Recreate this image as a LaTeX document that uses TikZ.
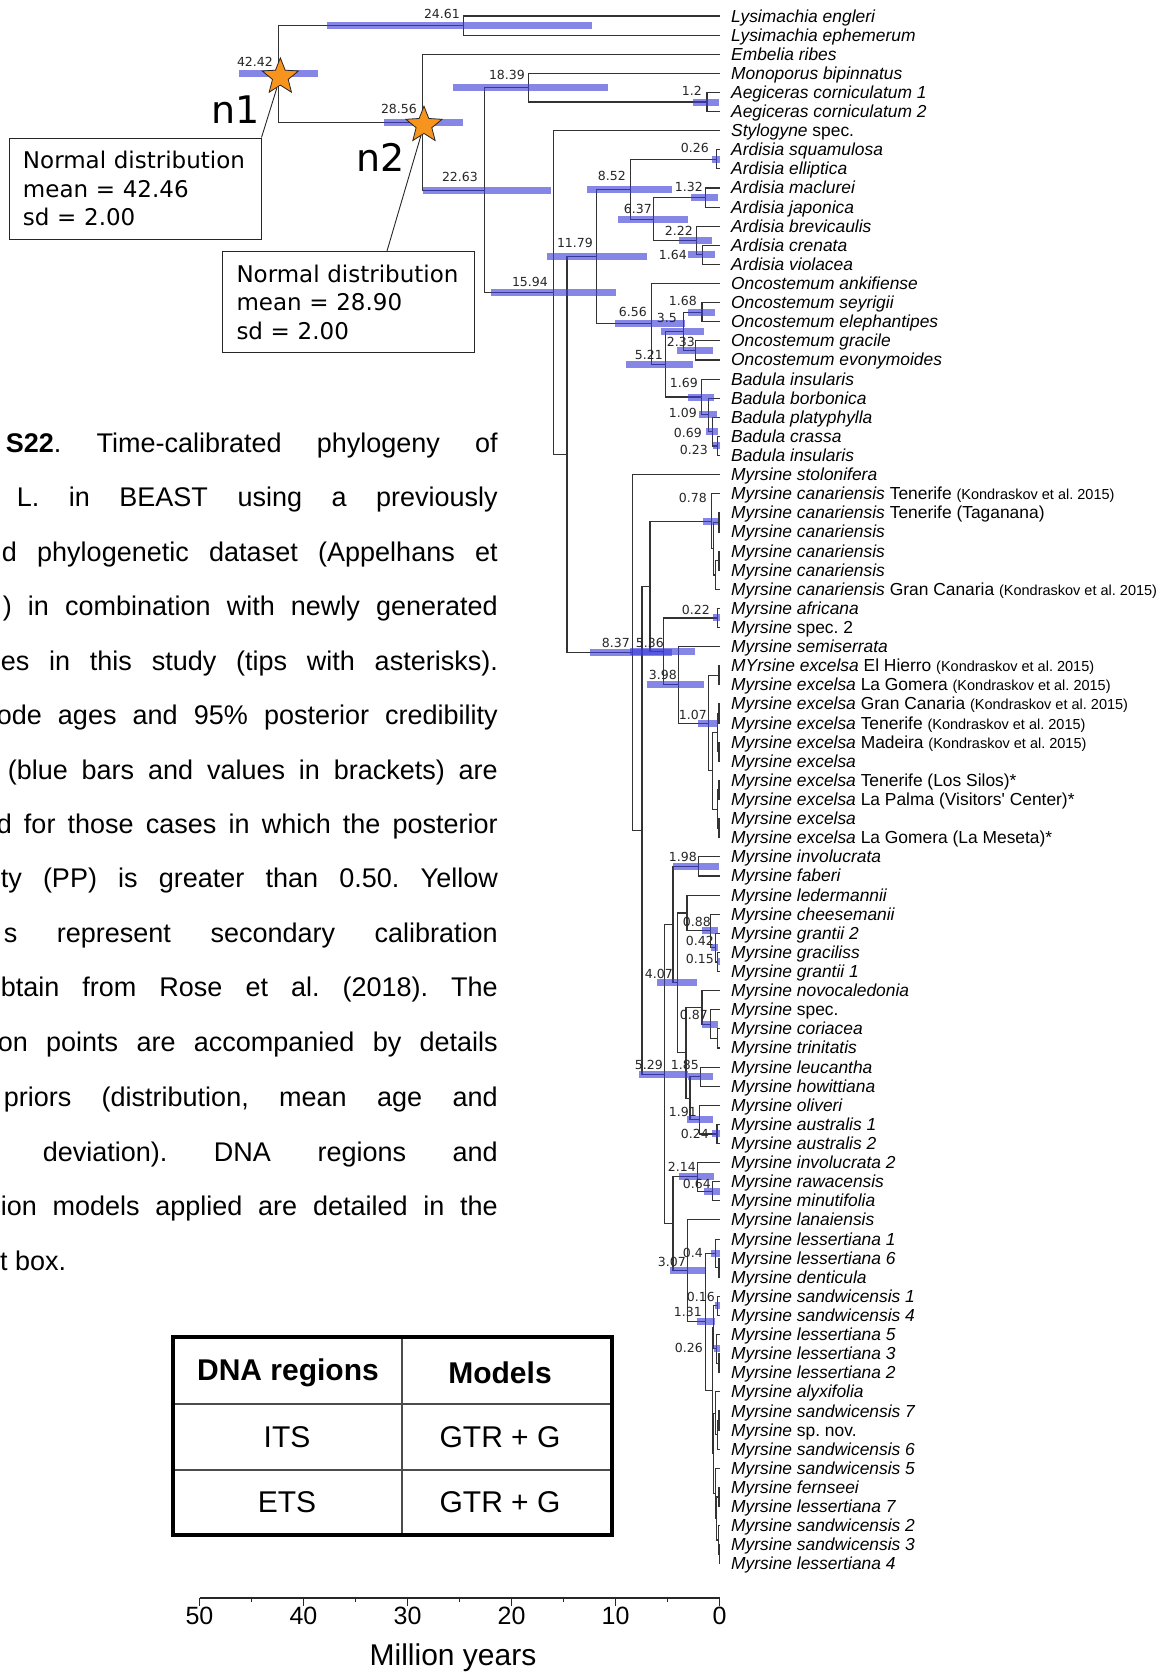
\documentclass[tikz,border=0pt]{standalone}
\usepackage{fontspec}
\setmainfont{Liberation Sans}
\newfontfamily\dvsans{DejaVu Sans}
\usetikzlibrary{calc,shapes.geometric}
\definecolor{calorange}{RGB}{247,148,30}
\definecolor{hpdblue}{RGB}{60,60,215}
\frenchspacing
% small reference text after some tips
\newcommand\kond{{\fontsize{14.5}{16}\selectfont(Kondraskov et al. 2015)}}
% clade: name, age, upper child, lower child
\newcommand\clade[4]{%
  \path let \p1=(#3), \p2=(#4) in coordinate (#1) at ({719.5-10.4*#2},{0.5*(\y1+\y2)});
  \draw[branch] (#3) -| (#1) |- (#4);}
% 95% HPD bar: node, left x, right x
\newcommand\hpd[3]{\fill[hpdbar] let \p1=(#1) in (#2,{\y1+3.5pt}) rectangle (#3,{\y1-3.5pt});}

\begin{document}
\begin{tikzpicture}[x=1pt,y=-1pt,
  branch/.style={line width=1.1pt,draw=black!80},
  hpdbar/.style={fill=hpdblue,fill opacity=0.62},
  agelab/.style={anchor=east,inner sep=0pt,text=black!85,font=\dvsans\fontsize{12.5}{14}\selectfont},
  tiplab/.style={anchor=base west,inner sep=0pt,font=\fontsize{17.4}{19}\selectfont\itshape},
  calstar/.style={star,star points=5,star point ratio=2.3,minimum size=38pt,inner sep=0pt,fill=calorange,draw=black!85,line width=0.8pt},
  calbox/.style={draw=black!85,line width=1pt,align=left,inner xsep=14pt,text width=224pt,minimum height=101pt,font=\dvsans\fontsize{23}{28.5}\selectfont},
  callout/.style={draw=black!85,line width=0.9pt},
  nlab/.style={font=\dvsans\fontsize{38}{40}\selectfont,inner sep=0pt},
  capline/.style={anchor=base east,inner sep=0pt,font=\fontsize{27}{30}\selectfont},
  tabtxt/.style={font=\fontsize{30}{32}\selectfont,inner sep=0pt},
  axisln/.style={line width=1.2pt,draw=black!85},
  axislab/.style={font=\fontsize{25}{28}\selectfont,inner sep=0pt}]
\useasboundingbox (0,0) rectangle (1172,1674);

% tips
\foreach \nm [count=\i] in {Lysimachia engleri, Lysimachia ephemerum, Embelia ribes,
  Monoporus bipinnatus, Aegiceras corniculatum 1, Aegiceras corniculatum 2,
  {Stylogyne \textup{spec.}}, Ardisia squamulosa, Ardisia elliptica, Ardisia maclurei,
  Ardisia japonica, Ardisia brevicaulis, Ardisia crenata, Ardisia violacea,
  Oncostemum ankifiense, Oncostemum seyrigii, Oncostemum elephantipes, Oncostemum gracile,
  Oncostemum evonymoides, Badula insularis, Badula borbonica, Badula platyphylla,
  Badula crassa, Badula insularis, Myrsine stolonifera,
  {Myrsine canariensis \textup{Tenerife \kond}},
  {Myrsine canariensis \textup{Tenerife (Taganana)}},
  Myrsine canariensis, Myrsine canariensis, Myrsine canariensis,
  {Myrsine canariensis \textup{Gran Canaria \kond}},
  Myrsine africana, {Myrsine \textup{spec. 2}}, Myrsine semiserrata,
  {MYrsine excelsa \textup{El Hierro \kond}},
  {Myrsine excelsa \textup{La Gomera \kond}},
  {Myrsine excelsa \textup{Gran Canaria \kond}},
  {Myrsine excelsa \textup{Tenerife \kond}},
  {Myrsine excelsa \textup{Madeira \kond}},
  Myrsine excelsa,
  {Myrsine excelsa \textup{Tenerife (Los Silos)*}},
  {Myrsine excelsa \textup{La Palma (Visitors\textquotesingle{} Center)*}},
  Myrsine excelsa,
  {Myrsine excelsa \textup{La Gomera (La Meseta)*}},
  Myrsine involucrata, Myrsine faberi, Myrsine ledermannii, Myrsine cheesemanii,
  Myrsine grantii 2, Myrsine graciliss, Myrsine grantii 1, Myrsine novocaledonia,
  {Myrsine \textup{spec.}}, Myrsine coriacea, Myrsine trinitatis, Myrsine leucantha,
  Myrsine howittiana, Myrsine oliveri, Myrsine australis 1, Myrsine australis 2,
  Myrsine involucrata 2, Myrsine rawacensis, Myrsine minutifolia, Myrsine lanaiensis,
  Myrsine lessertiana 1, Myrsine lessertiana 6, Myrsine denticula,
  Myrsine sandwicensis 1, Myrsine sandwicensis 4, Myrsine lessertiana 5,
  Myrsine lessertiana 3, Myrsine lessertiana 2, Myrsine alyxifolia,
  Myrsine sandwicensis 7, {Myrsine \textup{sp. nov.}}, Myrsine sandwicensis 6,
  Myrsine sandwicensis 5, Myrsine fernseei, Myrsine lessertiana 7,
  Myrsine sandwicensis 2, Myrsine sandwicensis 3, Myrsine lessertiana 4}
{
  \coordinate (t\i) at (720,{16+19.11*(\i-1)});
  \node[tiplab] (lab\i) at (731,{22+19.11*(\i-1)}) {\nm};
}

% outgroups and Ardisia, Oncostemum, Badula
\clade{nA}{24.61}{t1}{t2}
\clade{nAeg}{1.2}{t5}{t6}
\clade{nC}{18.39}{t4}{nAeg}
\clade{nG}{0.26}{t8}{t9}
\clade{nI}{1.32}{t10}{t11}
\clade{nK}{1.64}{t13}{t14}
\clade{nJ}{2.22}{t12}{nK}
\clade{nH}{6.37}{nI}{nJ}
\clade{nF}{8.52}{nG}{nH}
\clade{nO}{1.68}{t16}{t17}
\clade{nP}{2.33}{t18}{t19}
\clade{nN}{3.5}{nO}{nP}
\clade{nT}{0.23}{t23}{t24}
\clade{nS}{0.69}{t22}{nT}
\clade{nR}{1.09}{t21}{nS}
\clade{nQ}{1.69}{t20}{nR}
\clade{nM}{5.21}{nN}{nQ}
\clade{nL}{6.56}{t15}{nM}
\clade{nE}{11.79}{nF}{nL}
% Myrsine, Macaronesia and Africa
\clade{cV1}{0.05}{t27}{t28}
\clade{cW}{0.05}{t29}{t30}
\clade{cV2}{0.35}{cW}{t31}
\clade{cV}{0.6}{cV1}{cV2}
\clade{nCan}{0.78}{t26}{cV}
\clade{nAfr}{0.22}{t32}{t33}
\clade{xA}{0.05}{t35}{t36}
\clade{xB}{0.05}{t37}{t38}
\clade{xC}{0.05}{t39}{t40}
\clade{xD}{0.05}{t41}{t42}
\clade{xE}{0.05}{t43}{t44}
\clade{xU1}{0.2}{xB}{xC}
\clade{xU2}{0.2}{xD}{xE}
\clade{xU}{0.7}{xU1}{xU2}
\clade{nExc}{1.07}{xA}{xU}
\clade{n398}{3.98}{t34}{nExc}
\clade{n536}{5.36}{nAfr}{n398}
\clade{nZ}{6.68}{nCan}{n536}
% Myrsine, Pacific
\clade{n198}{1.98}{t45}{t46}
\clade{n015}{0.15}{t50}{t51}
\clade{n042}{0.42}{t49}{n015}
\clade{n088}{0.88}{t48}{n042}
\clade{nLC}{3.13}{t47}{n088}
\clade{pA}{0.15}{t54}{t55}
\clade{n087}{0.87}{t53}{pA}
\clade{nNC}{1.68}{t52}{n087}
\clade{n185}{1.85}{t56}{t57}
\clade{n024}{0.24}{t59}{t60}
\clade{n191}{1.91}{t58}{n024}
\clade{nK2}{2.84}{n185}{n191}
\clade{nK1}{3.22}{nNC}{nK2}
\clade{n407}{4.07}{nLC}{nK1}
\clade{nP1}{4.47}{n198}{n407}
\clade{n064}{0.64}{t62}{t63}
\clade{n214}{2.14}{t61}{n064}
\clade{hA}{0.05}{t66}{t67}
\clade{n04}{0.4}{t65}{hA}
\clade{n016}{0.16}{t68}{t69}
\clade{hB}{0.05}{t71}{t72}
\clade{n026}{0.26}{t70}{hB}
\clade{hQ3}{0.55}{n016}{n026}
\clade{hC}{0.05}{t74}{t75}
\clade{hD}{0.15}{hC}{t76}
\clade{hQ5}{0.35}{t73}{hD}
\clade{hE}{0.05}{t78}{t79}
\clade{hF}{0.03}{t81}{t82}
\clade{hG}{0.1}{t80}{hF}
\clade{hH}{0.25}{hE}{hG}
\clade{hQ6}{0.35}{t77}{hH}
\clade{hQ4}{0.55}{hQ5}{hQ6}
\clade{hQ2}{0.7}{hQ3}{hQ4}
\clade{n131}{1.31}{n04}{hQ2}
\clade{n307}{3.07}{t64}{n131}
\clade{nP2}{4.47}{n214}{n307}
\clade{n529}{5.29}{nP1}{nP2}
\clade{nY}{7.45}{nZ}{n529}
\clade{n837}{8.37}{t25}{nY}
% backbone
\clade{nX}{14.66}{nE}{n837}
\clade{nD}{15.94}{t7}{nX}
\clade{nB}{22.63}{nC}{nD}
\clade{n2}{28.56}{t3}{nB}
\clade{n1}{42.42}{nA}{n2}

% 95% HPD bars
\foreach \nd/\lo/\hi in {n1/239/318, nA/327/592, n2/384/463, nC/453/608, nAeg/693/719,
  nB/423/551, nD/491/616, nG/712/720, nF/587/672, nH/618/688, nI/691/718, nJ/679/712,
  nK/688/715, nE/547/647, nL/615/685, nO/688/715, nN/661/704, nP/677/713, nM/626/693,
  nQ/688/714, nR/699/717, nS/706/718, nT/713/720, nCan/703/718, nAfr/713/720,
  n837/590/672, n536/630/695, n398/647/704, nExc/698/718, n198/673/719, n088/702/718,
  n042/711/718, n015/717/720, n407/657/697, n087/702/718, n529/639/688, n185/688/713,
  n191/687/713, n024/712/720, n214/679/714, n064/704/720, n307/670/705, n04/711/720,
  n016/715/720, n131/697/715, n026/714/720}
  \hpd{\nd}{\lo}{\hi};

% node ages
\foreach \txt/\xr/\yc [count=\k] in {24.61/460/14, 42.42/273/62, 28.56/417/109, 18.39/525/75,
  1.2/702/91, 22.63/478/177, 15.94/548/282, 0.26/709/148, 8.52/626/176, 1.32/703/187,
  6.37/652/209, 2.22/693/231, 1.64/687/255, 11.79/593/243, 1.68/697/301, 6.56/647/312,
  3.5/677/318, 2.33/695/342, 5.21/663/355, 1.69/698/383, 1.09/697/413, 0.69/702/433,
  0.23/708/450, 0.78/707/498, 0.22/710/610, 8.37/630/643, 5.36/664/643, 3.98/677/675,
  1.07/707/715, 1.98/697/857, 0.88/711/922, 0.42/714/941, 0.15/714/959, 4.07/673/974,
  0.87/708/1015, 5.29/663/1065, 1.85/699/1065, 1.91/697/1112, 0.24/709/1134,
  2.14/696/1167, 0.64/711/1184, 3.07/686/1262, 0.4/703/1253, 0.16/715/1297,
  1.31/702/1312, 0.26/703/1348}
  \node[agelab] (age\k) at (\xr,\yc) {\txt};

% calibration points
\node[calstar] (star1) at ([xshift=2pt,yshift=-3pt]n1) {};
\node[calstar] (star2) at ([xshift=1.5pt,yshift=-3pt]n2) {};
\node[nlab] (n1lab) at (236,110) {n1};
\node[nlab] (n2lab) at (381,157) {n2};
\node[calbox] (box1) at (135,188.5) {Normal distribution\\mean = 42.46\\sd = 2.00};
\node[calbox] (box2) at (348.5,302) {Normal distribution\\mean = 28.90\\sd = 2.00};
\draw[callout] (box1.north east) -- (star1);
\draw[callout] ([xshift=38.5pt]box2.north) -- (star2);

% caption, cut at the left edge
\foreach \cl/\cw/\yb [count=\k] in {
  {\textbf{S22}. Time-calibrated phylogeny of}/492/452,
  {L. in BEAST using a previously}/481/506,
  {d phylogenetic dataset (Appelhans et}/496/561,
  {) in combination with newly generated}/495/615,
  {es in this study (tips with asterisks).}/497/670,
  {ode ages and 95\% posterior credibility}/501/724,
  {(blue bars and values in brackets) are}/490/779,
  {d for those cases in which the posterior}/501/833,
  {ty (PP) is greater than 0.50. Yellow}/497/887,
  {s represent secondary calibration}/494/942,
  {btain from Rose et al. (2018). The}/497/996,
  {on points are accompanied by details}/500/1051,
  {priors (distribution, mean age and}/494/1106,
  {deviation). DNA regions and}/455/1161,
  {ion models applied are detailed in the}/497/1215}
  \node[capline] (cap\k) at (498,\yb) {\makebox[\cw pt][s]{\cl}};
\node[capline,anchor=base west] (cap16) at (0,1270) {t box.};

% substitution models
\draw[line width=1.5pt,black!70] (402,1337) -- (402,1535) (173,1404) -- (612,1404) (173,1470) -- (612,1470);
\draw[line width=4pt] (173,1337) rectangle (612,1535);
\node[tabtxt,font=\fontsize{30}{32}\selectfont\bfseries] (th1) at (288,1373) {DNA regions};
\node[tabtxt,font=\fontsize{30}{32}\selectfont\bfseries] (th2) at (500,1373) {Models};
\node[tabtxt] (r1a) at (287,1437) {ITS};
\node[tabtxt] (r1b) at (500,1437) {GTR + G};
\node[tabtxt] (r2a) at (287,1502) {ETS};
\node[tabtxt] (r2b) at (500,1502) {GTR + G};

% time axis
\coordinate (axL) at (199.5,1598);
\coordinate (axR) at (719.5,1598);
\draw[axisln] (axL) -- (axR);
\foreach \a in {0,10,...,50}{
  \draw[axisln] ({719.5-10.4*\a},1598) -- ++(0,8);
  \node[axislab] (ax\a) at ({719.5-10.4*\a},1616) {\a};}
\foreach \a in {5,15,...,45}
  \draw[axisln] ({719.5-10.4*\a},1598) -- ++(0,4);
\node[font=\fontsize{30}{32}\selectfont,inner sep=0pt] (axtitle) at (453,1658) {Million years};
\end{tikzpicture}
\end{document}
